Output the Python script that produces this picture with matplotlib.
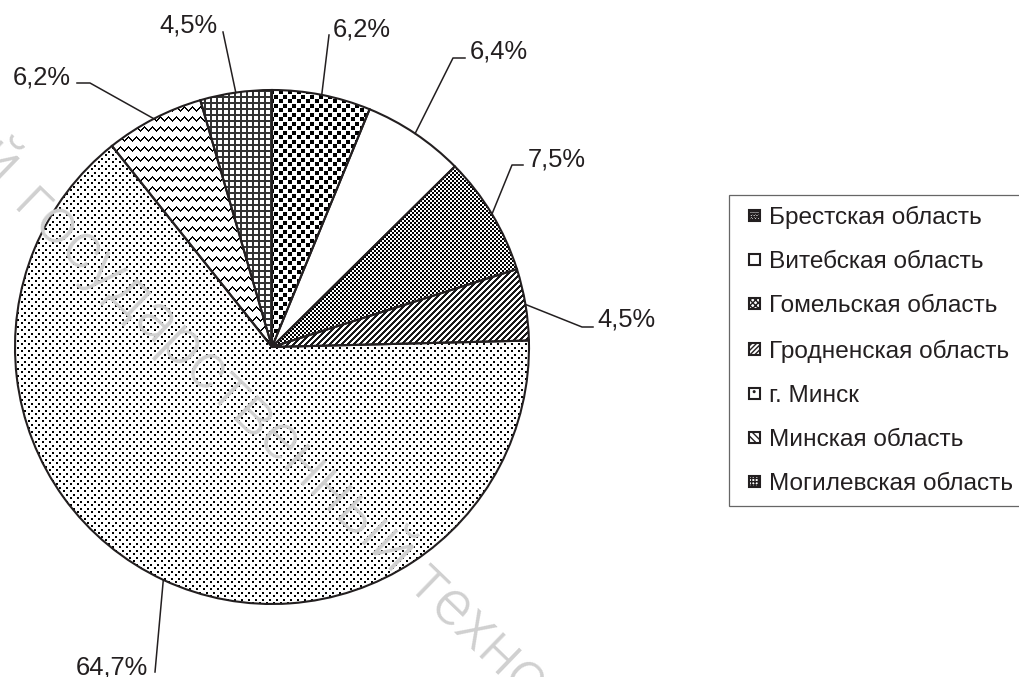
import numpy as np
import matplotlib
matplotlib.use('Agg')
import matplotlib.pyplot as plt
from matplotlib.patches import Patch, Rectangle
from matplotlib.legend_handler import HandlerPatch

plt.rcParams['font.family'] = ['Liberation Sans', 'DejaVu Sans']

# data
regions = ['Брестская область', 'Витебская область', 'Гомельская область',
           'Гродненская область', 'г. Минск', 'Минская область',
           'Могилевская область']
shares = [6.2, 6.4, 7.5, 4.5, 64.7, 6.2, 4.5]

W, H = 1019, 677
CX, CY, R = 272, 347, 257          # pie centre / radius in pixels


def px(x, y):
    # pixel (from top-left) -> data coords
    return (x - CX) / R, (CY - y) / R


# fill patterns, 1 = white, 0 = black
rr, cc = np.indices((H, W))
pat_brest = np.ones((H, W))
pat_brest[((rr % 9 < 4) & (cc % 9 < 4)) | (((rr + 4) % 9 < 4) & ((cc + 5) % 9 < 4))] = 0
pat_gomel = ((rr // 2 + cc // 2) % 2).astype(float)
pat_grodno = np.where((rr + cc) % 6 < 3, 0.1, 1.0)
pat_minsk = np.ones((H, W))
pat_minsk[((rr % 7 < 2) & (cc % 7 < 2)) | (((rr + 3) % 7 < 2) & ((cc + 4) % 7 < 2))] = 0
tri = np.abs(cc % 8 - 4)
pat_mobl = np.where((rr + tri) % 10 < 2, 0.0, 1.0)
pat_mog = np.where((rr % 6 < 2) | (cc % 6 < 2), 0.2, 1.0)
patterns = [pat_brest, None, pat_gomel, pat_grodno, pat_minsk, pat_mobl, pat_mog]

legend_hatch = ['oooooo', '', 'xxxxxx', '///////', '..', '\\\\\\\\\\', '+++++']

# label layout: leader line points (pixels) and text anchor
leaders = [
    ([(329, 35)], (333, 37), 'left'),
    ([(453, 58), (465, 58)], (470, 59), 'left'),
    ([(512, 165), (523, 165)], (528, 166), 'left'),
    ([(582, 327), (593, 327)], (597, 327), 'left'),
    ([(155, 672)], (148, 674), 'right'),
    ([(90, 83), (77, 83)], (71, 84), 'right'),
    ([(223, 32)], (217, 33), 'right'),
]

fig = plt.figure(figsize=(W / 100, H / 100), dpi=100)
ax = fig.add_axes([0, 0, 1, 1])
x0, y1 = px(0, 0)
x1, y0 = px(W, H)

wedges, _ = ax.pie(shares, startangle=90, counterclock=False, radius=1,
                   wedgeprops=dict(facecolor='none', edgecolor='#231f20',
                                   linewidth=1.5, zorder=3))

for w, p in zip(wedges, patterns):
    if p is None:
        continue
    im = ax.imshow(p, cmap='gray', vmin=0, vmax=1, interpolation='nearest',
                   extent=(x0, x1, y0, y1), origin='upper', zorder=2)
    im.set_clip_path(w)

# leader lines and percentage labels
for w, v, (pts, tpos, ha) in zip(wedges, shares, leaders):
    mid = np.deg2rad((w.theta1 + w.theta2) / 2)
    xs = [np.cos(mid)] + [px(*p)[0] for p in pts]
    ys = [np.sin(mid)] + [px(*p)[1] for p in pts]
    ax.plot(xs, ys, color='#231f20', lw=1.1, zorder=4)
    tx, ty = px(*tpos)
    ax.text(tx, ty, f'{v:.1f}%'.replace('.', ','), ha=ha, va='baseline',
            fontsize=18.4, color='#231f20', zorder=5)


# legend with small square markers
def small_square(legend, orig_handle, xdescent, ydescent, width, height, fontsize):
    s = 8.0
    return Rectangle((-xdescent + (width - s) / 2, -ydescent + (height - s) / 2), s, s)


handles = [Patch(facecolor='white', edgecolor='#231f20', hatch=h, linewidth=1.5)
           for h in legend_hatch]
leg = ax.legend(handles, regions, loc='upper left',
                bbox_to_anchor=(729 / W, 1 - 195 / H), bbox_transform=fig.transFigure,
                fontsize=17.6, frameon=True, fancybox=False, borderaxespad=0,
                borderpad=0.45, labelspacing=0.9, handlelength=1.2,
                handletextpad=0.0,
                handler_map={Patch: HandlerPatch(patch_func=small_square)})
leg.get_frame().set_edgecolor('#404040')
leg.get_frame().set_linewidth(0.9)
for t in leg.get_texts():
    t.set_color('#231f20')

# watermark
ang = np.deg2rad(-44)
sx, sy = px(12, 205)
wm = dict(rotation=-44, rotation_mode='anchor', va='baseline', fontsize=47,
          color='#d0d0d0', family=['Roboto', 'DejaVu Sans'], weight=300,
          zorder=6)
ax.text(sx, sy, 'государственный технологический университет', ha='left', **wm)
gap = 20 / R
ax.text(sx - gap * np.cos(ang), sy - gap * np.sin(ang), 'Витебский', ha='right', **wm)

ax.set_xlim(x0, x1)
ax.set_ylim(y0, y1)
ax.set_aspect('auto')
ax.axis('off')

fig.savefig('out.png', dpi=100)
